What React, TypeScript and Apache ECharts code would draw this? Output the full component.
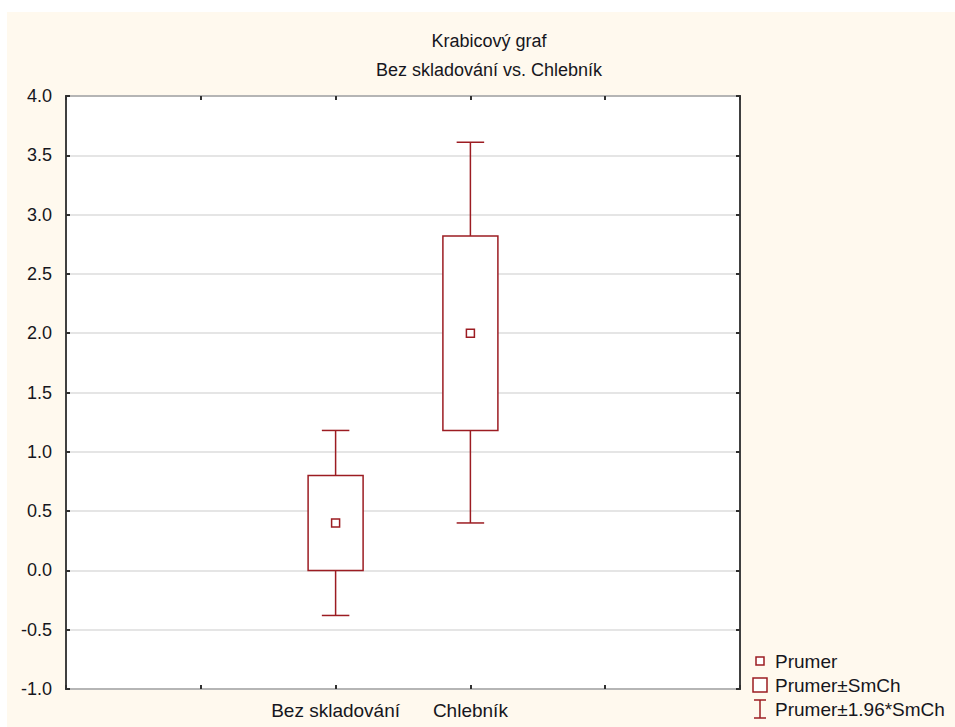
import React, { useEffect, useRef } from "react";
import * as echarts from "echarts";

// ---- data ----
const categories = ["Bez skladování", "Chlebník"];
const meanValues = [0.4, 2.0];
const seLow = [0.0, 1.18];
const seHigh = [0.8, 2.82];
const ciLow = [-0.38, 0.4];
const ciHigh = [1.18, 3.61];
const yTicks = { min: -1, max: 4, step: 0.5 };
const titleText = "Krabicový graf";
const subtitleText = "Bez skladování vs. Chlebník";
const legendLabels = ["Prumer", "Prumer±SmCh", "Prumer±1.96*SmCh"];

const RED = "#9c1c22";
const TXT = "#161620";
const FONT = "'Liberation Sans', Arial, sans-serif";

export default function App() {
  const ref = useRef<HTMLDivElement>(null);
  useEffect(() => {
    if (!ref.current) return;
    const chart = echarts.init(ref.current, undefined, { renderer: "svg" });
    const slots = ["", "", ...categories, "", ""];
    const offset = 2;
    const boxData = categories.map((_, i) => [i + offset, ciLow[i], seLow[i], seHigh[i], ciHigh[i]]);
    const meanData = categories.map((_, i) => [i + offset, meanValues[i]]);

    const lx = 760;
    const legendY = [661, 685, 709];
    const tickStyle = { show: true, inside: true, length: 4, lineStyle: { color: "#303030", width: 2 } };

    const xBase = {
      type: "category",
      data: slots,
      boundaryGap: false,
      axisLine: { show: false, onZero: false },
      splitLine: { show: false },
    };
    const yBase = {
      type: "value",
      min: yTicks.min,
      max: yTicks.max,
      interval: yTicks.step,
      axisLine: { show: false, onZero: false },
    };

    chart.setOption({
      animation: false,
      backgroundColor: "#ffffff",
      textStyle: { fontFamily: FONT },
      graphic: [
        {
          type: "rect",
          z: -10,
          silent: true,
          shape: { x: 7, y: 12, width: 948, height: 715 },
          style: { fill: "#fff9ee" },
        },
        {
          type: "text",
          x: 489,
          y: 41,
          style: { text: titleText, fill: TXT, font: `18px ${FONT}`, align: "center", verticalAlign: "middle" },
        },
        {
          type: "text",
          x: 489,
          y: 70,
          style: { text: subtitleText, fill: TXT, font: `18px ${FONT}`, align: "center", verticalAlign: "middle" },
        },
        // legend
        {
          type: "rect",
          shape: { x: lx - 4, y: legendY[0] - 4, width: 8, height: 8 },
          style: { fill: "#ffffff", stroke: RED, lineWidth: 1.5 },
        },
        {
          type: "rect",
          shape: { x: lx - 7, y: legendY[1] - 7, width: 14, height: 14 },
          style: { fill: "#ffffff", stroke: RED, lineWidth: 1.5 },
        },
        {
          type: "line",
          shape: { x1: lx, y1: legendY[2] - 9, x2: lx, y2: legendY[2] + 9 },
          style: { stroke: RED, lineWidth: 1.5 },
        },
        {
          type: "line",
          shape: { x1: lx - 6, y1: legendY[2] - 9, x2: lx + 6, y2: legendY[2] - 9 },
          style: { stroke: RED, lineWidth: 1.5 },
        },
        {
          type: "line",
          shape: { x1: lx - 6, y1: legendY[2] + 9, x2: lx + 6, y2: legendY[2] + 9 },
          style: { stroke: RED, lineWidth: 1.5 },
        },
        ...legendLabels.map((t, i) => ({
          type: "text",
          x: 775,
          y: legendY[i],
          style: { text: t, fill: TXT, font: `19px ${FONT}`, align: "left", verticalAlign: "middle" },
        })),
      ],
      grid: {
        left: 66,
        top: 96,
        width: 674,
        height: 593,
        show: true,
        backgroundColor: "#ffffff",
        borderColor: "#404040",
        borderWidth: 2,
        containLabel: false,
      },
      xAxis: [
        {
          ...xBase,
          position: "bottom",
          axisTick: { ...tickStyle, interval: 0 },
          axisLabel: { interval: 0, color: TXT, fontSize: 19, margin: 12, fontFamily: FONT },
        },
        {
          ...xBase,
          position: "top",
          axisTick: { ...tickStyle, interval: 0 },
          axisLabel: { show: false },
        },
      ],
      yAxis: [
        {
          ...yBase,
          position: "left",
          axisTick: tickStyle,
          axisLabel: {
            color: TXT,
            fontSize: 18,
            margin: 14,
            fontFamily: FONT,
            formatter: (v: number) => v.toFixed(1),
          },
          splitLine: { show: true, lineStyle: { color: "#dcdcdc", width: 1.5 } },
        },
        {
          ...yBase,
          position: "right",
          axisTick: tickStyle,
          axisLabel: { show: false },
          splitLine: { show: false },
        },
      ],
      series: [
        {
          type: "custom",
          data: boxData,
          encode: { x: 0, y: [1, 2, 3, 4] },
          z: 3,
          renderItem: (params: any, api: any) => {
            const x = api.value(0);
            const pLo = api.coord([x, api.value(1)]);
            const pBoxLo = api.coord([x, api.value(2)]);
            const pBoxHi = api.coord([x, api.value(3)]);
            const pHi = api.coord([x, api.value(4)]);
            const unit = api.size([1, 0])[0];
            const boxHalf = unit * 0.204;
            const capHalf = unit * 0.102;
            const cx = pLo[0];
            const st = { stroke: RED, lineWidth: 1.5, fill: "none" };
            return {
              type: "group",
              children: [
                { type: "line", shape: { x1: cx, y1: pLo[1], x2: cx, y2: pBoxLo[1] }, style: st },
                { type: "line", shape: { x1: cx, y1: pBoxHi[1], x2: cx, y2: pHi[1] }, style: st },
                { type: "line", shape: { x1: cx - capHalf, y1: pLo[1], x2: cx + capHalf, y2: pLo[1] }, style: st },
                { type: "line", shape: { x1: cx - capHalf, y1: pHi[1], x2: cx + capHalf, y2: pHi[1] }, style: st },
                {
                  type: "rect",
                  shape: { x: cx - boxHalf, y: pBoxHi[1], width: boxHalf * 2, height: pBoxLo[1] - pBoxHi[1] },
                  style: { stroke: RED, lineWidth: 1.5, fill: "#ffffff" },
                },
              ],
            };
          },
        },
        {
          type: "scatter",
          data: meanData,
          z: 5,
          symbol: "rect",
          symbolSize: 8,
          itemStyle: { color: "#ffffff", borderColor: RED, borderWidth: 1.5, opacity: 1 },
        },
      ],
    });
    return () => chart.dispose();
  }, []);
  return (
    <div
      ref={ref}
      style={{ position: "absolute", left: 0, top: 0, width: 955, height: 727 }}
    />
  );
}
